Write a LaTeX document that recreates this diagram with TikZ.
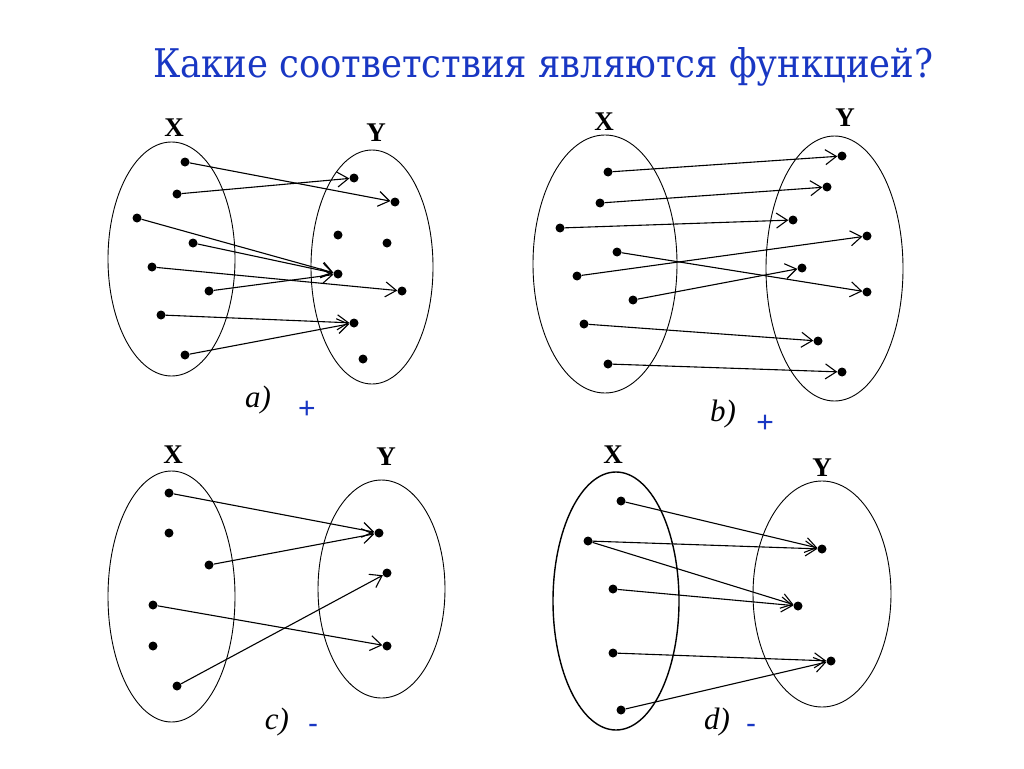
\documentclass[tikz,border=0pt]{standalone}
\usepackage{fontspec}
\setmainfont{Liberation Serif}
\newfontfamily\titlefont{DejaVu Serif}
\newfontfamily\signfont{Liberation Sans}
\usetikzlibrary{arrows.meta}
\definecolor{titleblue}{RGB}{25,55,195}

\begin{document}
\begin{tikzpicture}[x=1pt,y=-1pt,
    pt/.style={shape=circle,fill=black,inner sep=0pt,minimum size=9pt},
    map/.style={-{Straight Barb[length=11pt,width=15pt]},line width=1.1pt},
    setname/.style={font=\fontsize{27}{27}\selectfont\bfseries},
    caption/.style={font=\fontsize{31}{31}\selectfont\itshape},
    sign/.style={text=titleblue,font=\fontsize{30}{30}\selectfont\signfont}]
    \useasboundingbox (0,0) rectangle (1024,768);

    \node[text=titleblue,inner sep=0pt,anchor=base west] (title) at (153,77)
        {\titlefont\resizebox{780pt}{30pt}{Какие соответствия являются функцией?}};

    % a)
    \draw[line width=0.9pt] (171.5,259) ellipse [x radius=63.5, y radius=117]
                            (372,267) ellipse [x radius=61, y radius=117];
    \node[setname] (aX) at (174,128) {X};
    \node[setname] (aY) at (376,133) {Y};
    \begin{scope}[every node/.style={pt}]
        \node (ax1) at (185,162) {};
        \node (ax2) at (177,194) {};
        \node (ax3) at (137,218) {};
        \node (ax4) at (193,243) {};
        \node (ax5) at (152,267) {};
        \node (ax6) at (209,291) {};
        \node (ax7) at (161,315) {};
        \node (ax8) at (185,355) {};
        \node (ay1) at (354,178) {};
        \node (ay2) at (395,202) {};
        \node (ay3) at (338,235) {};
        \node (ay4) at (387,243) {};
        \node (ay5) at (338,274) {};
        \node (ay6) at (402,291) {};
        \node (ay7) at (354,323) {};
        \node (ay8) at (363,359) {};
    \end{scope}
    \draw[map] (ax1) -- (ay2);
    \draw[map] (ax2) -- (ay1);
    \draw[map] (ax3) -- (ay5);
    \draw[map] (ax4) -- (ay5);
    \draw[map] (ax5) -- (ay6);
    \draw[map] (ax6) -- (ay5);
    \draw[map] (ax7) -- (ay7);
    \draw[map] (ax8) -- (ay7);
    \node[caption] (acap) at (258,400) {a)};
    \node[sign] (asign) at (307,410) {+};

    % b)
    \draw[line width=0.9pt] (605,264) ellipse [x radius=72, y radius=129]
                            (834.5,268.5) ellipse [x radius=68.5, y radius=132.5];
    \node[setname] (bX) at (604,122) {X};
    \node[setname] (bY) at (845,118) {Y};
    \begin{scope}[every node/.style={pt}]
        \node (bx1) at (608,172) {};
        \node (bx2) at (600,203) {};
        \node (bx3) at (560,228) {};
        \node (bx4) at (617,252) {};
        \node (bx5) at (577,276) {};
        \node (bx6) at (633,300) {};
        \node (bx7) at (584,324) {};
        \node (bx8) at (608,364) {};
        \node (by1) at (842,156) {};
        \node (by2) at (827,187) {};
        \node (by3) at (793,220) {};
        \node (by4) at (867,236) {};
        \node (by5) at (802,268) {};
        \node (by6) at (867,292) {};
        \node (by7) at (818,341) {};
        \node (by8) at (842,372) {};
    \end{scope}
    \draw[map] (bx1) -- (by1);
    \draw[map] (bx2) -- (by2);
    \draw[map] (bx3) -- (by3);
    \draw[map] (bx4) -- (by6);
    \draw[map] (bx5) -- (by4);
    \draw[map] (bx6) -- (by5);
    \draw[map] (bx7) -- (by7);
    \draw[map] (bx8) -- (by8);
    \node[caption] (bcap) at (723,414) {b)};
    \node[sign] (bsign) at (765,424) {+};

    % c)
    \draw[line width=0.9pt] (171.5,596.5) ellipse [x radius=63.5, y radius=125.5]
                            (381.5,589) ellipse [x radius=63.5, y radius=109];
    \node[setname] (cX) at (173,455) {X};
    \node[setname] (cY) at (386,457) {Y};
    \begin{scope}[every node/.style={pt}]
        \node (cx1) at (169,493) {};
        \node (cx2) at (169,533) {};
        \node (cx3) at (209,565) {};
        \node (cx4) at (153,605) {};
        \node (cx5) at (153,646) {};
        \node (cx6) at (177,686) {};
        \node (cy1) at (379,533) {};
        \node (cy2) at (387,573) {};
        \node (cy3) at (387,646) {};
    \end{scope}
    \draw[map] (cx1) -- (cy1);
    \draw[map] (cx3) -- (cy1);
    \draw[map] (cx4) -- (cy3);
    \draw[map] (cx6) -- (cy2);
    \node[caption] (ccap) at (277,722) {c)};
    \node[sign] (csign) at (313,729) {-};

    % d)
    \draw[line width=1.4pt] (616,601) ellipse [x radius=63, y radius=129];
    \draw[line width=0.9pt] (822,594) ellipse [x radius=69, y radius=113];
    \node[setname] (dX) at (613,455) {X};
    \node[setname] (dY) at (822,468) {Y};
    \begin{scope}[every node/.style={pt}]
        \node (dx1) at (621,501) {};
        \node (dx2) at (588,541) {};
        \node (dx3) at (613,589) {};
        \node (dx4) at (613,653) {};
        \node (dx5) at (621,710) {};
        \node (dy1) at (822,549) {};
        \node (dy2) at (798,606) {};
        \node (dy3) at (831,661) {};
    \end{scope}
    \draw[map] (dx1) -- (dy1);
    \draw[map] (dx2) -- (dy1);
    \draw[map] (dx2) -- (dy2);
    \draw[map] (dx3) -- (dy2);
    \draw[map] (dx4) -- (dy3);
    \draw[map] (dx5) -- (dy3);
    \node[caption] (dcap) at (717,722) {d)};
    \node[sign] (dsign) at (751,729) {-};
\end{tikzpicture}
\end{document}
